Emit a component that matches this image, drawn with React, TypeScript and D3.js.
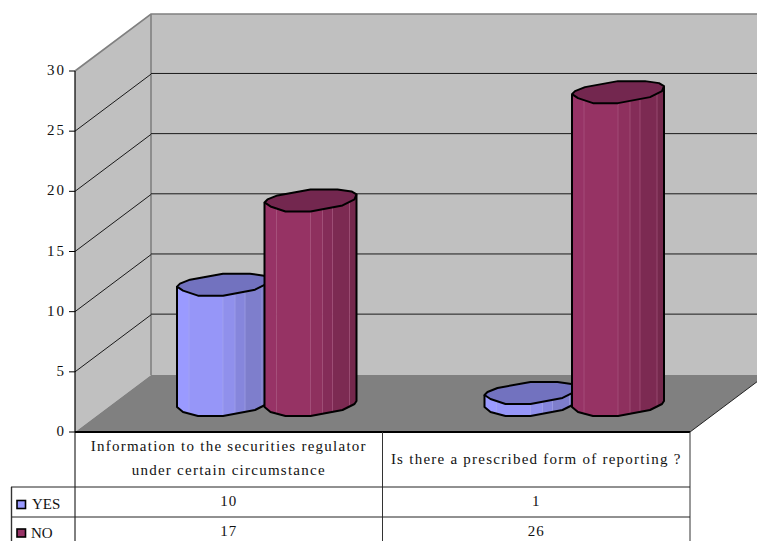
import React from "react";
import * as d3 from "d3";

const categories = [
  ["Information to the securities regulator", "under certain circumstance"],
  ["Is there a prescribed form of reporting ?"],
];
const seriesNames = ["YES", "NO"];
const yesValues = [10, 1];
const noValues = [17, 26];
const yTicks = [0, 5, 10, 15, 20, 25, 30];
const seriesValues = [yesValues, noValues];

const sideColors = [
  ["#9a9aff", "#9696f8", "#9090ec", "#8686dc", "#7e7ecc", "#7676bc"],
  ["#973366", "#963364", "#8e305e", "#842c58", "#7c2a52", "#74284c"],
];
const capColors = ["#7272bf", "#73274f"];

// Outline of one 3D column, as offsets from its left edge.
const capShape: [number, number][] = [
  [0, 0], [3, -3], [13, -7], [46, -13], [73, -13], [87, -11], [92, -8],
  [90, -3], [78, 3], [46, 9], [21, 9], [6, 4],
];
const capFront: [number, number][] = [
  [0, 0], [6, 4], [21, 9], [46, 9], [78, 3], [90, -3], [92, -8],
];
const footShape: [number, number][] = [
  [0, 0], [6, 5], [21, 9], [46, 9], [78, 3], [90, -3], [92, -6],
];
const facetStops = [0, 12, 46, 58, 68, 85, 92];

const depth = { x: 76, y: -57 };
const plot = { left: 75, right: 690, bottom: 432, top: 71 };
const tableRows = [487, 517, 541];
const columnBase = 407;

const y = d3.scaleLinear().domain([0, 30]).range([plot.bottom, plot.top]);
const xCat = d3.scaleBand<number>().domain([0, 1]).range([plot.left, plot.right]);
const xSeries = d3.scaleBand<number>().domain([0, 1]).range([102, 277]);

const polyline = d3.line();
const FONT = "'Liberation Serif', 'Times New Roman', serif";

function profile(shape: [number, number][]) {
  return d3.scaleLinear().domain(shape.map((p) => p[0])).range(shape.map((p) => p[1]));
}
const footY = profile(footShape);
const capFrontY = profile(capFront);

function Column({ cat, series }: { cat: number; series: number }) {
  const value = seriesValues[series][cat];
  const left = (xCat(cat) as number) + (xSeries(series) as number);
  const top = columnBase - (y(0) - y(value));
  const knots = footShape.map((p) => p[0]);
  // Extra points keep the facet polygons on the same outline as the column.
  const facets = d3.pairs(facetStops).map(([a, b], i) => {
    const samples = [a, ...knots.filter((d) => d > a && d < b), b];
    const pts: [number, number][] = [
      ...samples.map((d): [number, number] => [left + d, top + capFrontY(d)]),
      ...[...samples].reverse().map((d): [number, number] => [left + d, columnBase + footY(d)]),
    ];
    const fill = sideColors[series][Math.min(i, 5)];
    return <path key={i} d={polyline(pts) + "Z"} fill={fill} stroke={fill} strokeWidth={0.5} />;
  });
  const seams = facetStops.slice(1, -1).map((d) => (
    <line key={d} x1={left + d} x2={left + d} y1={top + capFrontY(d)} y2={columnBase + footY(d)}
      stroke={series === 0 ? "#a9a9f0" : "#b06088"} strokeWidth={0.8} opacity={0.75} />
  ));
  const outer: [number, number][] = [
    [left, top],
    [left, columnBase],
    ...footShape.slice(1).map(([dx, dy]): [number, number] => [left + dx, columnBase + dy]),
    [left + 92, top - 8],
  ];
  const cap = capShape.map(([dx, dy]): [number, number] => [left + dx, top + dy]);
  return (
    <g>
      {facets}
      {seams}
      <path d={polyline(outer) as string} fill="none" stroke="#000" strokeWidth={2} strokeLinejoin="round" />
      <path d={polyline(cap) + "Z"} fill={capColors[series]} stroke="#000" strokeWidth={2} strokeLinejoin="round" />
    </g>
  );
}

export default function App() {
  const floorBack = plot.bottom + depth.y;
  const wallTop = plot.top + depth.y;
  const backLeft = plot.left + depth.x;
  const backRight = plot.right + depth.x;
  const textStyle = { fontFamily: FONT, fontSize: 15, fill: "#111" };
  const catEdges = [plot.left, xCat(1) as number, plot.right];

  return (
    <svg width={757} height={541} viewBox="0 0 757 541"
      style={{ position: "absolute", left: 0, top: 0, background: "#fff" }}>
      {/* walls and floor */}
      <polygon points={`${plot.left},${plot.bottom} ${plot.left},${plot.top} ${backLeft},${wallTop} ${backLeft},${floorBack}`} fill="#c0c0c0" />
      <rect x={backLeft} y={wallTop} width={backRight - backLeft} height={floorBack - wallTop} fill="#c0c0c0" />
      <polygon points={`${plot.left},${plot.bottom} ${backLeft},${floorBack} ${backRight},${floorBack} ${plot.right},${plot.bottom}`} fill="#808080" />
      <polyline points={`${plot.left},${plot.top} ${backLeft},${wallTop} ${backRight},${wallTop}`} fill="none" stroke="#808080" strokeWidth={1.6} />
      <line x1={backLeft} x2={backLeft} y1={wallTop} y2={floorBack} stroke="#808080" strokeWidth={1.6} />

      {/* gridlines */}
      {yTicks.slice(1, -1).map((t) => (
        <g key={t} stroke="#1a1a1a" strokeWidth={1}>
          <line x1={plot.left} y1={y(t)} x2={backLeft} y2={y(t) + depth.y} />
          <line x1={backLeft} y1={y(t) + depth.y - 0.7} x2={backRight} y2={y(t) + depth.y - 0.7} />
        </g>
      ))}

      {/* columns */}
      {categories.map((_, c) =>
        seriesNames.map((_, s) => <Column key={`${c}-${s}`} cat={c} series={s} />)
      )}

      {/* floor edge and value axis */}
      <line x1={plot.right} y1={plot.bottom} x2={backRight} y2={floorBack} stroke="#222" strokeWidth={1} />
      <line x1={plot.left} x2={plot.left} y1={plot.top} y2={plot.bottom} stroke="#000" strokeWidth={1.2} />
      {yTicks.map((t) => (
        <g key={t}>
          <line x1={plot.left - 6} x2={plot.left} y1={y(t)} y2={y(t)} stroke="#000" strokeWidth={1} />
          <text x={plot.left - 9} y={y(t) + 4} textAnchor="end" style={{ ...textStyle, letterSpacing: 2 }}>{t}</text>
        </g>
      ))}

      {/* data table */}
      <line x1={plot.left} x2={plot.right} y1={plot.bottom} y2={plot.bottom} stroke="#000" strokeWidth={1.8} />
      {catEdges.map((x) => (
        <line key={x} x1={x} x2={x} y1={plot.bottom} y2={tableRows[2]} stroke={x === plot.left ? "#000" : "#333"} strokeWidth={1} />
      ))}
      <line x1={11.5} x2={11.5} y1={tableRows[0]} y2={tableRows[2]} stroke="#333" strokeWidth={1.4} />
      {tableRows.slice(0, 2).map((r, i) => (
        <line key={r} x1={i === 0 ? 11 : 12} x2={plot.right} y1={r} y2={r} stroke="#222" strokeWidth={1} />
      ))}
      {categories.map((lines, c) => {
        const cx = (xCat(c) as number) + xCat.bandwidth() / 2;
        const startY = lines.length === 2 ? 451 : 464;
        return (
          <g key={c}>
            {lines.map((line, i) => (
              <text key={line} x={cx} y={startY + i * 24} textAnchor="middle" style={{ ...textStyle, letterSpacing: 1.25 }}>{line}</text>
            ))}
            {seriesValues.map((vals, s) => (
              <text key={s} x={cx} y={s === 0 ? 506 : 536} textAnchor="middle" style={{ ...textStyle, letterSpacing: 1 }}>{vals[c]}</text>
            ))}
          </g>
        );
      })}
      {seriesNames.map((name, s) => (
        <g key={name}>
          <rect x={17} y={s === 0 ? 500.5 : 529} width={8.5} height={8} fill={sideColors[s][0]} stroke="#000" strokeWidth={1.6} />
          <text x={s === 0 ? 32 : 31} y={s === 0 ? 509 : 538} style={textStyle}>{name}</text>
        </g>
      ))}
    </svg>
  );
}
